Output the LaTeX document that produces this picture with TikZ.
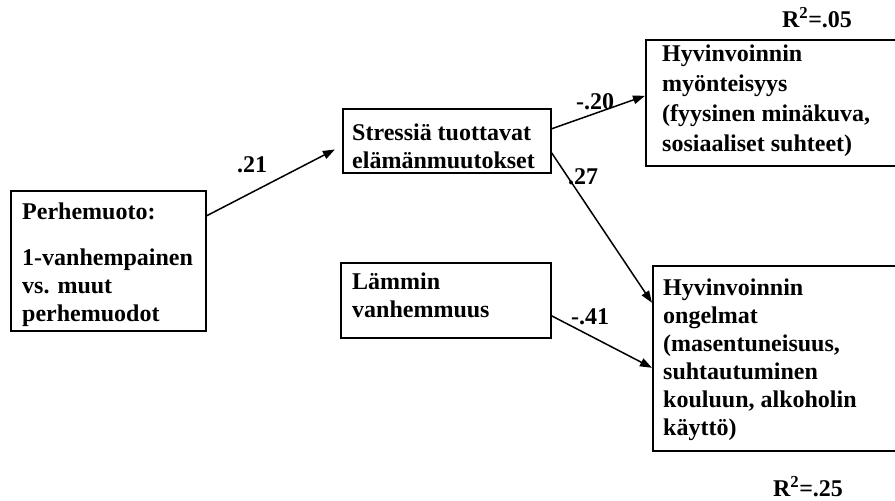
\documentclass[tikz,border=0pt]{standalone}
\usepackage{fontspec}
\setmainfont{Liberation Serif}
\usetikzlibrary{arrows.meta,calc}
\begin{document}
\begin{tikzpicture}[x=1pt,y=-1pt,
  box/.style={draw,line width=1.6pt,rectangle,inner sep=0pt,anchor=north west},
  txt/.style={anchor=north west,inner sep=0pt,align=left,font=\bfseries\fontsize{24}{28}\selectfont},
  lab/.style={inner sep=0pt,font=\bfseries\fontsize{24}{28}\selectfont},
  arr/.style={line width=1.5pt,-{Triangle[length=12pt,width=8.5pt]}}]
\useasboundingbox (0,0) rectangle (895,501);
\clip (0,0) rectangle (895,501);
% boxes
\node[box,minimum width=195pt,minimum height=140pt] (b1) at (10,190) {};
\node[box,minimum width=208pt,minimum height=64pt] (b2) at (342,108) {};
\node[box,minimum width=265pt,minimum height=126pt] (b3) at (645,39) {};
\node[box,minimum width=210pt,minimum height=75pt] (b4) at (340,262) {};
\node[box,minimum width=258pt,minimum height=185pt] (b5) at (652,265) {};
% texts
\node[txt] (t1) at (22,201) {\rule{0pt}{18pt}Perhemuoto:\\[18pt]1-vanhempainen\\vs. muut\\perhemuodot};
\node[txt] (t2) at (352,122) {\rule{0pt}{18pt}Stressiä tuottavat\\elämänmuutokset};
\node[txt,font=\bfseries\fontsize{24}{30}\selectfont] (t3) at (662,43) {\rule{0pt}{18pt}Hyvinvoinnin\\myönteisyys\\(fyysinen minäkuva,\\sosiaaliset suhteet)};
\node[txt] (t4) at (352,271) {\rule{0pt}{18pt}Lämmin\\vanhemmuus};
\node[txt] (t5) at (663,277) {\rule{0pt}{18pt}Hyvinvoinnin\\ongelmat\\(masentuneisuus,\\suhtautuminen\\kouluun, alkoholin\\käyttö)};
% R2 labels
\node[lab] (r1) at (817,18) {R\textsuperscript{2}=.05};
\node[lab] (r2) at (808,487) {R\textsuperscript{2}=.25};
% arrows
\draw[arr,shorten >=8pt] ([yshift=45pt]b1.east) -- ([yshift=-5pt]b2.west);
\draw[arr] ([yshift=12pt]b2.east) -- ([yshift=7pt]b3.west);
\draw[arr] ([yshift=-12pt]b2.east) -- ([yshift=55.5pt]b5.west);
\draw[arr] ([yshift=-15.5pt]b4.east) -- ([yshift=-9.5pt]b5.west);
% path labels
\node[lab] (l1) at (252,165) {.21};
\node[lab] (l2) at (595,102) {-.20};
\node[lab] (l3) at (583,177) {.27};
\node[lab] (l4) at (590,317) {-.41};
\end{tikzpicture}
\end{document}
